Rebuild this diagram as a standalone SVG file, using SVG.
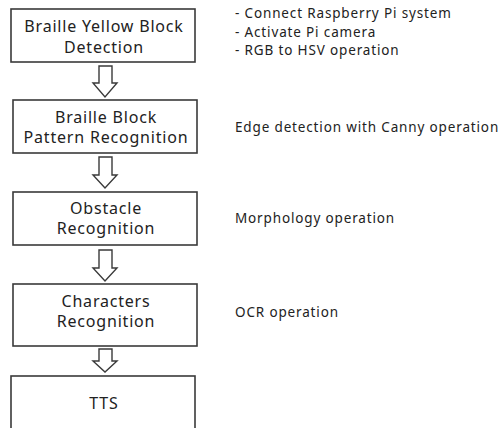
<svg xmlns="http://www.w3.org/2000/svg" width="502" height="428" viewBox="0 0 502 428">
  <style>
    .box { fill: #ffffff; stroke: #3a3a3a; stroke-width: 1.6; }
    .lbl { font-family: "Noto Sans", "Open Sans", sans-serif; font-size: 16px; letter-spacing: 0.8px; fill: #222222; text-anchor: middle; }
    .note { font-family: "Noto Sans", "Open Sans", sans-serif; font-size: 13.5px; letter-spacing: 0.85px; fill: #222222; }
    .arrow { fill: #ffffff; stroke: #3a3a3a; stroke-width: 1.4; stroke-linejoin: miter; }
  </style>
  <rect width="502" height="428" fill="#ffffff"/>

  <!-- hollow block arrows between the stages -->
  <g id="connectors">
    <polygon class="arrow" points="99,66 112,66 112,83 117,83 105,97 93,83 99,83"/>
    <polygon class="arrow" points="99,157 112,157 112,175 117,175 105,188 93,175 99,175"/>
    <polygon class="arrow" points="99,250 112,250 112,268 117,268 105,281 93,268 99,268"/>
    <polygon class="arrow" points="99,349 112,349 112,361 117,361 105,372 93,361 99,361"/>
  </g>

  <g id="yellow-block-detection">
    <rect class="box" x="11" y="9" width="184" height="53"/>
    <text class="lbl" x="104" y="32">Braille Yellow Block</text>
    <text class="lbl" x="104" y="53">Detection</text>
  </g>

  <g id="pattern-recognition">
    <rect class="box" x="13" y="100" width="184" height="53"/>
    <text class="lbl" x="106" y="123">Braille Block</text>
    <text class="lbl" x="106" y="143">Pattern Recognition</text>
  </g>

  <g id="obstacle-recognition">
    <rect class="box" x="13" y="192" width="184" height="53"/>
    <text class="lbl" x="106" y="214">Obstacle</text>
    <text class="lbl" x="106" y="234">Recognition</text>
  </g>

  <g id="characters-recognition">
    <rect class="box" x="13" y="284" width="184" height="62"/>
    <text class="lbl" x="106" y="307">Characters</text>
    <text class="lbl" x="106" y="327">Recognition</text>
  </g>

  <g id="tts">
    <rect class="box" x="11" y="376" width="184" height="60"/>
    <text class="lbl" x="104" y="409">TTS</text>
  </g>

  <g id="notes">
    <text class="note" x="235" y="18">- Connect Raspberry Pi system</text>
    <text class="note" x="235" y="36.5">- Activate Pi camera</text>
    <text class="note" x="235" y="55">- RGB to HSV operation</text>
    <text class="note" x="235" y="132">Edge detection with Canny operation</text>
    <text class="note" x="235" y="223">Morphology operation</text>
    <text class="note" x="235" y="317">OCR operation</text>
  </g>
</svg>
